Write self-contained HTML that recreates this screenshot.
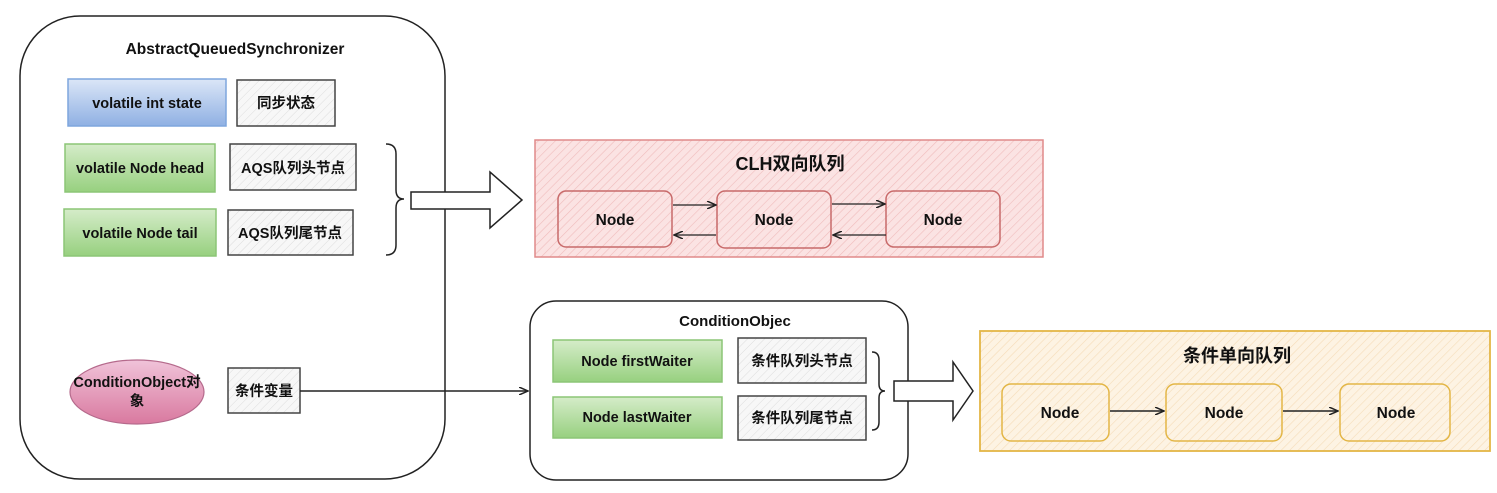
<!DOCTYPE html>
<html><head><meta charset="utf-8"><style>
html,body{margin:0;padding:0;background:#fff;}
svg{display:block;}
text{font-family:"Liberation Sans","Noto Sans CJK SC",sans-serif;font-weight:bold;fill:#111;}
</style></head><body>
<svg width="1497" height="493" viewBox="0 0 1497 493" xmlns="http://www.w3.org/2000/svg">
<defs>
<pattern id="hg" width="6" height="6" patternUnits="userSpaceOnUse" patternTransform="rotate(45)"><rect width="6" height="6" fill="#f7f7f7"/><line x1="0" y1="0" x2="0" y2="6" stroke="#ddd" stroke-width="1"/></pattern>
<pattern id="hr" width="6" height="6" patternUnits="userSpaceOnUse" patternTransform="rotate(45)"><rect width="6" height="6" fill="#fbe3e3"/><line x1="0" y1="0" x2="0" y2="6" stroke="#f0bcbc" stroke-width="1.2"/></pattern>
<pattern id="hy" width="6" height="6" patternUnits="userSpaceOnUse" patternTransform="rotate(45)"><rect width="6" height="6" fill="#fdf3e3"/><line x1="0" y1="0" x2="0" y2="6" stroke="#f5dcb8" stroke-width="1.2"/></pattern>
<linearGradient id="gb" x1="0" y1="0" x2="0" y2="1"><stop offset="0" stop-color="#dbe6f7"/><stop offset="1" stop-color="#8fb0e3"/></linearGradient>
<linearGradient id="gg" x1="0" y1="0" x2="0" y2="1"><stop offset="0" stop-color="#d5ecc9"/><stop offset="1" stop-color="#97d07f"/></linearGradient>
<linearGradient id="gp" x1="0" y1="0" x2="0" y2="1"><stop offset="0" stop-color="#f0c3d9"/><stop offset="1" stop-color="#d9799f"/></linearGradient>
<marker id="ar" markerWidth="10" markerHeight="8" refX="9" refY="4" orient="auto" markerUnits="userSpaceOnUse"><path d="M0,0 L9,4 L0,8" fill="none" stroke="#222" stroke-width="1.5"/></marker>
</defs>

<rect x="20" y="16" width="425" height="463" rx="60" fill="#fff" stroke="#222" stroke-width="1.5"/>
<text x="235" y="54" text-anchor="middle" font-size="15.5">AbstractQueuedSynchronizer</text>

<rect x="68" y="79" width="158" height="47" fill="url(#gb)" stroke="#7ea6dd" stroke-width="1.5"/>
<text x="147" y="108" text-anchor="middle" font-size="14.5">volatile int state</text>
<rect x="237" y="80" width="98" height="46" fill="url(#hg)" stroke="#444" stroke-width="1.5"/>
<text x="286" y="108" text-anchor="middle" font-size="14.5">同步状态</text>

<rect x="65" y="144" width="150" height="48" fill="url(#gg)" stroke="#8cc576" stroke-width="1.5"/>
<text x="140" y="173" text-anchor="middle" font-size="14.5">volatile Node head</text>
<rect x="230" y="144" width="126" height="46" fill="url(#hg)" stroke="#444" stroke-width="1.5"/>
<text x="293" y="173" text-anchor="middle" font-size="14.5">AQS队列头节点</text>

<rect x="64" y="209" width="152" height="47" fill="url(#gg)" stroke="#8cc576" stroke-width="1.5"/>
<text x="140" y="238" text-anchor="middle" font-size="14.5">volatile Node tail</text>
<rect x="228" y="210" width="125" height="45" fill="url(#hg)" stroke="#444" stroke-width="1.5"/>
<text x="290" y="238" text-anchor="middle" font-size="14.5">AQS队列尾节点</text>

<path d="M386,144 Q396,144 396,154 L396,190 Q396,199 404,199 Q396,199 396,208 L396,245 Q396,255 386,255" fill="none" stroke="#222" stroke-width="1.5"/>
<path d="M411,192 L490,192 L490,172 L522,200 L490,228 L490,209 L411,209 Z" fill="#fff" stroke="#222" stroke-width="1.5"/>

<ellipse cx="137" cy="392" rx="67" ry="32" fill="url(#gp)" stroke="#b56a8c" stroke-width="1.2"/>
<text x="137" y="387" text-anchor="middle" font-size="14.5">ConditionObject对</text>
<text x="137" y="406" text-anchor="middle" font-size="14.5">象</text>
<rect x="228" y="368" width="72" height="45" fill="url(#hg)" stroke="#444" stroke-width="1.5"/>
<text x="264" y="396" text-anchor="middle" font-size="14.5">条件变量</text>
<line x1="300" y1="391" x2="528" y2="391" stroke="#222" stroke-width="1.5" marker-end="url(#ar)"/>

<rect x="535" y="140" width="508" height="117" fill="url(#hr)" stroke="#e08a8a" stroke-width="1.5"/>
<text x="790" y="170" text-anchor="middle" font-size="18">CLH双向队列</text>
<rect x="558" y="191" width="114" height="56" rx="8" fill="url(#hr)" stroke="#c86a6a" stroke-width="1.5"/>
<text x="615" y="225" text-anchor="middle" font-size="15.5">Node</text>
<rect x="717" y="191" width="114" height="57" rx="8" fill="url(#hr)" stroke="#c86a6a" stroke-width="1.5"/>
<text x="774" y="225" text-anchor="middle" font-size="15.5">Node</text>
<rect x="886" y="191" width="114" height="56" rx="8" fill="url(#hr)" stroke="#c86a6a" stroke-width="1.5"/>
<text x="943" y="225" text-anchor="middle" font-size="15.5">Node</text>
<line x1="673" y1="205" x2="716" y2="205" stroke="#222" stroke-width="1.3" marker-end="url(#ar)"/>
<line x1="716" y1="235" x2="674" y2="235" stroke="#222" stroke-width="1.3" marker-end="url(#ar)"/>
<line x1="832" y1="204" x2="885" y2="204" stroke="#222" stroke-width="1.3" marker-end="url(#ar)"/>
<line x1="886" y1="235" x2="833" y2="235" stroke="#222" stroke-width="1.3" marker-end="url(#ar)"/>

<rect x="530" y="301" width="378" height="179" rx="26" fill="#fff" stroke="#222" stroke-width="1.5"/>
<text x="735" y="326" text-anchor="middle" font-size="15">ConditionObjec</text>
<rect x="553" y="340" width="169" height="42" fill="url(#gg)" stroke="#8cc576" stroke-width="1.5"/>
<text x="637" y="366" text-anchor="middle" font-size="14.5">Node firstWaiter</text>
<rect x="553" y="397" width="169" height="41" fill="url(#gg)" stroke="#8cc576" stroke-width="1.5"/>
<text x="637" y="422" text-anchor="middle" font-size="14.5">Node lastWaiter</text>
<rect x="738" y="338" width="128" height="45" fill="url(#hg)" stroke="#444" stroke-width="1.5"/>
<text x="802" y="366" text-anchor="middle" font-size="14.5">条件队列头节点</text>
<rect x="738" y="396" width="128" height="44" fill="url(#hg)" stroke="#444" stroke-width="1.5"/>
<text x="802" y="423" text-anchor="middle" font-size="14.5">条件队列尾节点</text>
<path d="M872,352 Q879,352 879,360 L879,384 Q879,391 885,391 Q879,391 879,398 L879,422 Q879,430 872,430" fill="none" stroke="#222" stroke-width="1.5"/>
<path d="M894,381 L953,381 L953,362 L973,391 L953,420 L953,401 L894,401 Z" fill="#fff" stroke="#222" stroke-width="1.5"/>

<rect x="980" y="331" width="510" height="120" fill="url(#hy)" stroke="#e3b646" stroke-width="1.8"/>
<text x="1237" y="362" text-anchor="middle" font-size="18">条件单向队列</text>
<rect x="1002" y="384" width="107" height="57" rx="9" fill="url(#hy)" stroke="#e3b646" stroke-width="1.5"/>
<text x="1060" y="418" text-anchor="middle" font-size="15.5">Node</text>
<rect x="1166" y="384" width="116" height="57" rx="9" fill="url(#hy)" stroke="#e3b646" stroke-width="1.5"/>
<text x="1224" y="418" text-anchor="middle" font-size="15.5">Node</text>
<rect x="1340" y="384" width="110" height="57" rx="9" fill="url(#hy)" stroke="#e3b646" stroke-width="1.5"/>
<text x="1396" y="418" text-anchor="middle" font-size="15.5">Node</text>
<line x1="1110" y1="411" x2="1164" y2="411" stroke="#222" stroke-width="1.5" marker-end="url(#ar)"/>
<line x1="1283" y1="411" x2="1338" y2="411" stroke="#222" stroke-width="1.5" marker-end="url(#ar)"/>
</svg>
</body></html>
